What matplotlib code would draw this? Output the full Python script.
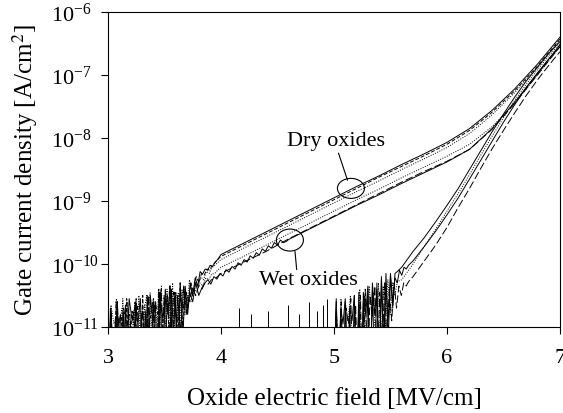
import numpy as np
import matplotlib
matplotlib.use("Agg")
import matplotlib.pyplot as plt
from matplotlib.patches import Ellipse
from matplotlib.transforms import ScaledTranslation
from matplotlib.ticker import NullLocator

plt.rcParams["font.family"] = ["Liberation Serif", "DejaVu Serif"]
plt.rcParams["mathtext.fontset"] = "stix"

# field grids [MV/cm]
field_hi = [4.0, 4.2, 4.4, 4.6, 4.8, 5.0, 5.2, 5.4, 5.6, 5.8, 6.0, 6.2, 6.4, 6.6, 6.8, 7.0]
field_fn = [5.6, 5.7, 5.8, 5.9, 6.0, 6.1, 6.2, 6.3, 6.4, 6.5, 6.6, 6.7, 6.8, 6.9, 7.0]

# log10 of gate current density [A/cm2]
# --- dry / wet oxides (noisy part from 3.0 MV/cm, then smooth part)
dry_a_noise = [-12.0, -10.7, -11.9, -10.85, -11.0, -10.8, -11.8, -10.65, -12.0, -10.9,
               -11.9, -10.6, -10.95, -10.55, -11.7, -10.75, -12.0, -10.5, -10.9, -10.6,
               -12.0, -10.45, -11.7, -10.4, -10.8, -10.35, -11.5, -10.45, -11.8, -10.3,
               -11.2, -10.35, -10.8, -10.3, -10.5, -10.22, -10.35, -10.12, -10.16, -10.08,
               -10.1, -10.02, -10.04, -9.97, -9.93]
dry_a = [-9.85, -9.67, -9.49, -9.31, -9.13, -8.95, -8.77, -8.6, -8.42, -8.25, -8.07, -7.85, -7.56, -7.22, -6.83, -6.4]

dry_b_noise = [-11.9, -10.8, -12.1, -10.6, -10.95, -10.85, -12.0, -10.55, -11.9, -10.75,
               -11.0, -10.65, -11.8, -10.5, -12.0, -10.7, -10.85, -10.55, -12.0, -10.4,
               -11.8, -10.5, -11.9, -10.35, -11.6, -10.45, -11.3, -10.3, -11.0, -10.4,
               -10.7, -10.3, -10.45, -10.2, -10.3, -10.15, -10.18, -10.08, -10.1, -10.02, -9.98, -9.93]
dry_b = [-9.88, -9.7, -9.52, -9.34, -9.16, -8.98, -8.8, -8.62, -8.45, -8.28, -8.1, -7.88, -7.59, -7.25, -6.86, -6.43]

dry_c_noise = [-12.0, -10.8, -11.9, -10.55, -11.0, -10.7, -11.8, -10.6, -12.0, -10.75,
               -11.9, -10.5, -12.2, -10.65, -10.9, -10.45, -11.9, -10.6, -11.6, -10.35,
               -11.9, -10.4, -11.4, -10.3, -11.8, -10.45, -11.0, -10.35, -10.7, -10.25,
               -10.5, -10.3, -10.35, -10.2, -10.25, -10.12, -10.15, -10.06, -10.02, -9.98]
dry_c = [-9.93, -9.75, -9.57, -9.39, -9.21, -9.03, -8.85, -8.68, -8.5, -8.33, -8.15, -7.93, -7.63, -7.28, -6.88, -6.45]

wet_d_noise = [-12.1, -10.65, -10.95, -10.8, -12.0, -10.55, -11.9, -10.7, -12.1, -10.6,
               -11.8, -10.75, -10.85, -10.5, -11.7, -10.6, -11.9, -10.45, -11.5, -10.55,
               -11.9, -10.35, -11.3, -10.45, -11.0, -10.4, -10.8, -10.5, -10.6, -10.38,
               -10.45, -10.3, -10.35, -10.22, -10.25, -10.16, -10.15, -10.1]
wet_d = [-10.05, -9.88, -9.7, -9.52, -9.34, -9.16, -8.98, -8.81, -8.63, -8.46, -8.29, -8.1, -7.82, -7.45, -7.0, -6.55]

wet_e_noise = [-11.9, -10.75, -12.1, -10.6, -11.8, -10.7, -11.0, -10.8, -11.9, -10.55,
               -12.2, -10.65, -11.8, -10.5, -12.0, -10.6, -10.8, -10.4, -11.8, -10.5,
               -11.3, -10.45, -11.0, -10.55, -10.7, -10.45, -10.6, -10.38, -10.5, -10.34,
               -10.4, -10.3, -10.32, -10.25, -10.24, -10.2]
wet_e = [-10.15, -9.97, -9.8, -9.6, -9.42, -9.24, -9.06, -8.88, -8.7, -8.53, -8.37, -8.18, -7.86, -7.45, -7.0, -6.55]

wet_f_noise = [-12.0, -10.7, -11.9, -10.6, -12.1, -10.75, -11.8, -10.55, -10.9, -10.65,
               -11.9, -10.8, -12.2, -10.5, -11.8, -10.6, -12.0, -10.45, -10.85, -10.55,
               -11.9, -10.4, -11.5, -10.5, -11.1, -10.35, -10.8, -10.45, -10.6, -10.3,
               -10.5, -10.38, -10.3, -10.25, -10.32, -10.2, -10.24, -10.15, -10.19, -10.09,
               -10.13, -10.04, -10.08, -9.98, -10.02, -9.93, -9.97, -9.87, -9.91, -9.82,
               -9.86, -9.76, -9.8, -9.71, -9.75, -9.66, -9.7, -9.62, -9.66, -9.64]
wet_f = [-9.61, -9.43, -9.25, -9.07, -8.9, -8.72, -8.55, -8.38, -8.18, -7.85, -7.43, -6.98, -6.52]

# --- high field (tunnelling) curves, noisy part from 5.0 MV/cm
fn1_noise = [-12.0, -10.6, -11.9, -10.7, -10.95, -10.55, -11.8, -10.75, -12.0, -10.5,
             -11.9, -10.65, -12.1, -10.45, -10.8, -10.35, -12.0, -10.4, -11.7, -10.3,
             -11.9, -10.25, -11.5, -10.15, -11.2, -10.2, -10.7, -10.15, -10.12]
fn1 = [-10.05, -9.8, -9.58, -9.33, -9.07, -8.8, -8.5, -8.2, -7.9, -7.62, -7.35, -7.1, -6.88, -6.66, -6.47]

fn2_noise = [-11.9, -10.7, -12.1, -10.55, -11.8, -10.65, -10.9, -10.5, -11.9, -10.7,
             -12.2, -10.4, -11.8, -10.5, -12.0, -10.35, -10.75, -10.45, -11.9, -10.3,
             -11.4, -10.35, -11.0, -10.25, -10.8, -10.3, -10.5, -10.28]
fn2 = [-10.25, -10.0, -9.72, -9.45, -9.16, -8.88, -8.58, -8.27, -7.97, -7.68, -7.4, -7.15, -6.92, -6.7, -6.5]

fn3_noise = [-12.0, -10.55, -11.9, -10.75, -12.1, -10.6, -11.8, -10.7, -10.9, -10.5,
             -11.9, -10.45, -12.2, -10.6, -11.8, -10.4, -12.0, -10.3, -10.8, -10.4,
             -11.8, -10.2, -11.2, -10.3, -10.9, -10.15, -10.6, -10.22, -10.3, -10.1,
             -10.18, -10.05, -10.08, -10.02]
fn3 = [-9.95, -9.72, -9.48, -9.22, -8.95, -8.65, -8.35, -8.05, -7.75, -7.47, -7.2, -6.97, -6.75, -6.55]

fn4_noise = [-11.9, -10.75, -12.0, -10.6, -12.1, -10.7, -10.95, -10.55, -12.0, -10.65,
             -11.9, -10.5, -12.2, -10.4, -11.7, -10.5, -10.85, -10.35, -11.8, -10.45,
             -11.5, -10.3, -11.2, -10.4, -10.9, -10.3, -10.7, -10.35, -10.5, -10.3, -10.35, -10.28]
fn4 = [-10.2, -9.95, -9.7, -9.42, -9.1, -8.8, -8.48, -8.17, -7.88, -7.6, -7.33, -7.08, -6.85, -6.63]

# isolated noise spikes between 4 and 5 MV/cm
spike_field = [4.16, 4.27, 4.42, 4.59, 4.69, 4.78, 4.85, 4.90, 4.94]
spike_top = [-10.7, -10.8, -10.75, -10.65, -10.8, -10.6, -10.75, -10.65, -10.55]


def build(noise, x0, x1, smooth, grid):
    x = np.concatenate([np.linspace(x0, x1, len(noise)), grid[-len(smooth):]])
    y = 10.0 ** np.array(noise + smooth)
    return x, y


dotted = (0, (1, 1.5))
dashed = (0, (4, 2))
longdash = (0, (8, 3))

curves = [
    (dry_a_noise, 3.0, 3.97, dry_a, field_hi, "-"),
    (dry_b_noise, 3.0, 3.97, dry_b, field_hi, dashed),
    (dry_c_noise, 3.0, 3.97, dry_c, field_hi, dotted),
    (wet_d_noise, 3.0, 3.97, wet_d, field_hi, dotted),
    (wet_e_noise, 3.0, 3.97, wet_e, field_hi, longdash),
    (wet_f_noise, 3.0, 4.58, wet_f, field_hi, "-"),
    (fn1_noise, 5.0, 5.56, fn1, field_fn, "-"),
    (fn2_noise, 5.0, 5.56, fn2, field_fn, dotted),
    (fn3_noise, 5.0, 5.66, fn3, field_fn, "-"),
    (fn4_noise, 5.0, 5.66, fn4, field_fn, longdash),
]

fig = plt.figure(figsize=(5.63, 4.14), dpi=100)
ax = fig.add_axes([0.1918, 0.2077, 0.8028, 0.761])

for noise, x0, x1, smooth, grid, ls in curves:
    x, y = build(noise, x0, x1, smooth, grid)
    ax.plot(x, y, color="black", lw=0.7, ls=ls)

ax.vlines(spike_field, 1e-12, 10.0 ** np.array(spike_top), color="black", lw=0.7)

ax.set_yscale("log")
ax.set_xlim(3, 7)
ax.set_ylim(1e-11, 1e-6)
ax.set_xticks([3, 4, 5, 6, 7])
ax.yaxis.set_minor_locator(NullLocator())

for s in ax.spines.values():
    s.set_linewidth(0.8)
ax.tick_params(axis="both", direction="out", length=5, width=0.8, labelsize=16)
ax.tick_params(axis="x", pad=10)
ax.tick_params(axis="y", pad=36)
for lab in ax.get_yticklabels():
    lab.set_horizontalalignment("left")

ax.set_xlabel("Oxide electric field [MV/cm]", fontsize=18)
ax.set_ylabel("Gate current density [A/cm$^2$]", fontsize=18)
ax.xaxis.set_label_coords(0.5, -0.19)
ax.yaxis.set_label_coords(-0.15, 0.5)

# annotations
ax.text(5.02, 10 ** -8.04, "Dry oxides", fontsize=16, ha="center", va="center")
ax.text(4.77, 10 ** -10.24, "Wet oxides", fontsize=16, ha="center", va="center")
for cx, cy, w, h in [(5.15, -8.80, 0.27, 0.20), (4.61, -9.62, 0.27, 0.22)]:
    ax.add_patch(Ellipse((0, 0), w, h, fill=False, lw=0.8, color="black",
                         transform=fig.dpi_scale_trans + ScaledTranslation(cx, 10 ** cy, ax.transData)))
ax.annotate("", xy=(5.12, 10 ** -8.67), xytext=(5.04, 10 ** -8.24),
            arrowprops=dict(arrowstyle="-", lw=0.8, color="black", shrinkA=0, shrinkB=0))
ax.annotate("", xy=(4.655, 10 ** -9.80), xytext=(4.67, 10 ** -10.09),
            arrowprops=dict(arrowstyle="-", lw=0.8, color="black", shrinkA=0, shrinkB=0))

fig.savefig("out.png", dpi=100)
